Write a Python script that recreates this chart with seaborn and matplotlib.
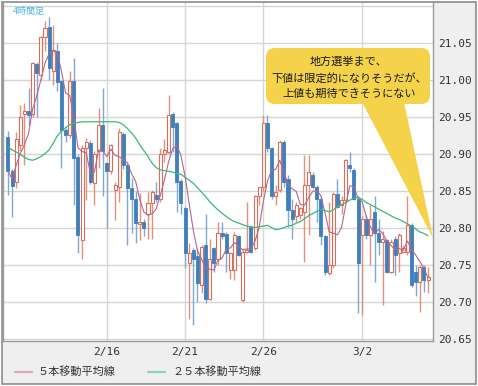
import numpy as np
import pandas as pd
import seaborn as sns
import matplotlib.pyplot as plt
from matplotlib.patches import FancyBboxPatch, Polygon, Rectangle
from matplotlib.lines import Line2D
from matplotlib.transforms import Affine2D

sns.set_style("white")
plt.rcParams['font.family'] = ['Noto Sans CJK JP', 'DejaVu Sans']

# ---- data (4-hour candles) ----
opens = [20.924, 20.877, 20.862, 20.913, 20.955, 20.958, 20.955, 21.022, 21.007, 21.059,
         21.072, 21.012, 21.040, 20.999, 20.933, 20.926, 20.999, 20.897, 20.784, 20.908,
         20.915, 20.861, 20.904, 20.940, 20.888, 20.877, 20.852, 20.856, 20.928, 20.886,
         20.855, 20.840, 20.806, 20.808, 20.820, 20.834, 20.845, 20.840, 20.901, 20.903,
         20.955, 20.942, 20.864, 20.827, 20.753, 20.771, 20.762, 20.723, 20.777, 20.705,
         20.774, 20.759, 20.794, 20.792, 20.744, 20.744, 20.789, 20.703, 20.768, 20.802,
         20.773, 20.843, 20.856, 20.942, 20.908, 20.843, 20.852, 20.917, 20.867, 20.825,
         20.816, 20.818, 20.822, 20.858, 20.872, 20.856, 20.840, 20.789, 20.739, 20.750,
         20.847, 20.831, 20.838, 20.885, 20.879, 20.840, 20.791, 20.813, 20.791, 20.822,
         20.793, 20.782, 20.784, 20.741, 20.786, 20.766, 20.768, 20.768, 20.804, 20.741,
         20.728, 20.748, 20.730]
highs = [20.931, 20.880, 20.930, 20.967, 20.969, 20.990, 21.025, 21.025, 21.060, 21.080,
         21.085, 21.075, 21.050, 21.000, 20.935, 21.012, 21.030, 20.900, 20.912, 20.922,
         20.920, 20.904, 20.963, 20.989, 20.890, 20.914, 20.863, 20.935, 20.930, 20.890,
         20.868, 20.850, 20.848, 20.812, 20.849, 20.852, 20.863, 20.908, 20.921, 20.980,
         20.957, 20.944, 20.867, 20.829, 20.780, 20.773, 20.773, 20.777, 20.820, 20.786,
         20.775, 20.809, 20.809, 20.795, 20.768, 20.795, 20.791, 20.773, 20.836, 20.804,
         20.845, 20.856, 20.953, 20.953, 20.910, 20.858, 20.919, 20.919, 20.872, 20.840,
         20.836, 20.829, 20.899, 20.899, 20.876, 20.858, 20.843, 20.791, 20.836, 20.849,
         20.867, 20.843, 20.894, 20.903, 20.881, 20.843, 20.816, 20.818, 20.832, 20.843,
         20.813, 20.796, 20.786, 20.786, 20.789, 20.793, 20.777, 20.843, 20.807, 20.750,
         20.750, 20.750, 20.748]
lows = [20.845, 20.815, 20.855, 20.904, 20.886, 20.940, 20.950, 20.950, 21.000, 21.040,
        21.000, 20.994, 20.985, 20.882, 20.917, 20.922, 20.832, 20.766, 20.759, 20.838,
        20.860, 20.832, 20.882, 20.843, 20.800, 20.874, 20.811, 20.836, 20.880, 20.777,
        20.793, 20.780, 20.784, 20.790, 20.786, 20.786, 20.836, 20.836, 20.890, 20.901,
        20.903, 20.822, 20.820, 20.746, 20.678, 20.669, 20.701, 20.712, 20.699, 20.703,
        20.741, 20.750, 20.786, 20.741, 20.732, 20.730, 20.762, 20.701, 20.766, 20.766,
        20.771, 20.831, 20.849, 20.903, 20.840, 20.831, 20.849, 20.856, 20.802, 20.786,
        20.809, 20.813, 20.755, 20.791, 20.854, 20.809, 20.777, 20.737, 20.737, 20.746,
        20.827, 20.820, 20.836, 20.876, 20.838, 20.685, 20.683, 20.786, 20.750, 20.728,
        20.764, 20.696, 20.739, 20.739, 20.737, 20.741, 20.766, 20.764, 20.721, 20.708,
        20.687, 20.714, 20.712]
closes = [20.877, 20.857, 20.921, 20.951, 20.958, 20.953, 21.023, 21.010, 21.059, 21.071,
          21.017, 21.041, 20.998, 20.933, 20.926, 20.999, 20.895, 20.791, 20.908, 20.917,
          20.863, 20.901, 20.940, 20.904, 20.877, 20.913, 20.859, 20.930, 20.886, 20.855,
          20.840, 20.807, 20.808, 20.800, 20.834, 20.849, 20.840, 20.901, 20.906, 20.953,
          20.937, 20.863, 20.834, 20.766, 20.766, 20.759, 20.726, 20.775, 20.705, 20.759,
          20.753, 20.793, 20.789, 20.766, 20.766, 20.791, 20.764, 20.768, 20.771, 20.768,
          20.843, 20.856, 20.942, 20.908, 20.843, 20.849, 20.917, 20.863, 20.825, 20.813,
          20.832, 20.827, 20.858, 20.876, 20.856, 20.840, 20.789, 20.741, 20.750, 20.847,
          20.829, 20.838, 20.892, 20.881, 20.840, 20.753, 20.813, 20.791, 20.813, 20.793,
          20.782, 20.786, 20.741, 20.782, 20.764, 20.791, 20.773, 20.804, 20.723, 20.728,
          20.748, 20.730, 20.734]
ma25 = [20.910, 20.906, 20.903, 20.900, 20.896, 20.893, 20.892, 20.894, 20.897, 20.901,
        20.906, 20.915, 20.925, 20.931, 20.936, 20.940, 20.942, 20.943, 20.944, 20.944,
        20.944, 20.944, 20.944, 20.944, 20.944, 20.944, 20.944, 20.943, 20.940, 20.935,
        20.929, 20.922, 20.913, 20.905, 20.897, 20.888, 20.882, 20.879, 20.878, 20.877,
        20.876, 20.874, 20.873, 20.869, 20.865, 20.861, 20.855, 20.849, 20.843, 20.836,
        20.830, 20.825, 20.820, 20.816, 20.812, 20.809, 20.807, 20.805, 20.803, 20.802,
        20.801, 20.802, 20.803, 20.804, 20.801, 20.798, 20.799, 20.801, 20.803, 20.804,
        20.807, 20.809, 20.813, 20.817, 20.820, 20.823, 20.825, 20.824, 20.822, 20.825,
        20.829, 20.832, 20.835, 20.838, 20.841, 20.842, 20.839, 20.835, 20.832, 20.829,
        20.826, 20.823, 20.820, 20.817, 20.814, 20.812, 20.809, 20.806, 20.803, 20.799,
        20.795, 20.793, 20.790]
date_labels = ["2/16", "2/21", "2/26", "3/2"]
date_index = [24, 43, 62, 86]
y_ticks = [20.65, 20.70, 20.75, 20.80, 20.85, 20.90, 20.95, 21.00, 21.05, 21.10]
legend_labels = ["５本移動平均線", "２５本移動平均線"]
note_lines = ["地方選挙まで、", "下値は限定的になりそうだが、", "上値も期待できそうにない"]
period_label = "4時間足"

df = pd.DataFrame({"open": opens, "high": highs, "low": lows, "close": closes, "ma25": ma25})
df["idx"] = np.arange(len(df))
df["ma5"] = df["close"].rolling(5, min_periods=1).mean()

# ---- figure ----
W, H = 478, 386
fig = plt.figure(figsize=(W / 100, H / 100), dpi=100, facecolor="white")
px = Affine2D().scale(1 / 100, -1 / 100).translate(0, H / 100) + fig.dpi_scale_trans

panel = Rectangle((2, 2), 474, 381.5, transform=px, facecolor="#efefef",
                  edgecolor="#8c8c8c", lw=1.2, zorder=-5)
fig.add_artist(panel)

ax = fig.add_axes([3 / W, 1 - 341 / H, (433 - 3) / W, (341 - 3) / H])
ax.set_facecolor("white")

up_body = "#db6e58"
up_wick = "#e38f7c"
dn_body = "#3f7fbd"
dn_wick = "#7fa9d3"
bw = 0.74

up = df[df["close"] >= df["open"]]
dn = df[df["close"] < df["open"]]
ax.vlines(up["idx"], up["low"], up["high"], color=up_wick, lw=1.0, zorder=2)
ax.vlines(dn["idx"], dn["low"], dn["high"], color=dn_wick, lw=1.0, zorder=2)
ax.bar(up["idx"], np.maximum(up["close"] - up["open"], 0.0008), bottom=up["open"],
       width=bw, facecolor="white", edgecolor=up_body, linewidth=0.8, zorder=3)
ax.bar(dn["idx"], np.maximum(dn["open"] - dn["close"], 0.0008), bottom=dn["close"],
       width=bw, facecolor=dn_body, edgecolor=dn_body, linewidth=0.6, zorder=3)

sns.lineplot(data=df, x="idx", y="ma5", ax=ax, color="#b8648f", lw=0.8,
             legend=False, zorder=4)
sns.lineplot(data=df, x="idx", y="ma25", ax=ax, color="#3cb878", lw=0.9,
             legend=False, zorder=4)

ax.set_xlim(-1.2, 103.2)
ax.set_ylim(20.6477, 21.1045)
ax.set_xlabel("")
ax.set_ylabel("")

ax.set_yticks(y_ticks)
ax.set_yticklabels([f"{v:.2f}" if v < 21.08 else "" for v in y_ticks],
                   family="DejaVu Sans Mono", fontsize=8, color="#333333")
ax.yaxis.tick_right()
ax.set_xticks(date_index)
ax.set_xticklabels(date_labels, family="DejaVu Sans Mono", fontsize=8, color="#333333")
ax.tick_params(axis="both", length=0)
ax.tick_params(axis="y", pad=4)
ax.tick_params(axis="x", pad=4)
ax.grid(True, color="#d6d6d6", lw=1)
ax.set_axisbelow(True)
for s in ["left", "right", "bottom"]:
    ax.spines[s].set_color("#9a9a9a")
    ax.spines[s].set_linewidth(1)
ax.spines["top"].set_visible(False)

# period label
fig.text(13, 11, period_label, transform=px, ha="left", va="center",
         fontsize=6.5, color="#45b4e6")

# legend
fig.add_artist(Line2D([15, 32], [372, 372], transform=px, color="#d8a7c0", lw=1.6))
fig.text(38, 372, legend_labels[0], transform=px, ha="left", va="center",
         fontsize=8, color="#333333")
fig.add_artist(Line2D([148, 165], [372, 372], transform=px, color="#8fd4b4", lw=1.6))
fig.text(172, 372, legend_labels[1], transform=px, ha="left", va="center",
         fontsize=8, color="#333333")

# callout
yel = "#f4d24a"
box = FancyBboxPatch((266, 48), 164, 56, boxstyle="round,pad=0,rounding_size=9",
                     transform=px, facecolor=yel, edgecolor="none", zorder=10)
fig.add_artist(box)
tail = Polygon([(362, 102), (404, 102), (433, 238)], closed=True, transform=px,
               facecolor=yel, edgecolor="none", zorder=10)
fig.add_artist(tail)
for yy, line in zip([62, 78, 94], note_lines):
    fig.text(349, yy, line, transform=px, ha="center", va="center",
             fontsize=8, color="#1a1a1a", zorder=11)

fig.savefig("out.png", dpi=100, facecolor=fig.get_facecolor())
